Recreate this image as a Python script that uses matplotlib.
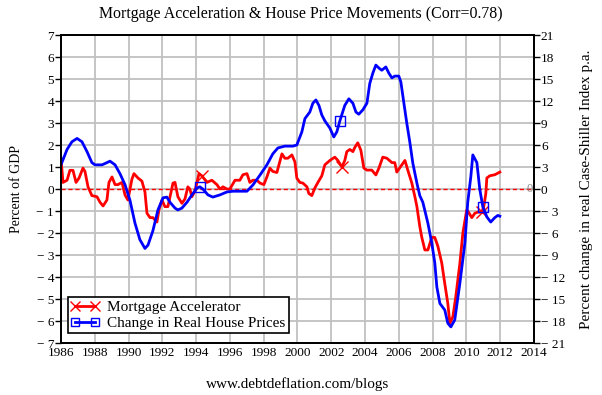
import numpy as np
import matplotlib
matplotlib.use('Agg')
import matplotlib.pyplot as plt

plt.rcParams['font.family'] = ['Liberation Serif', 'DejaVu Serif']

# Mortgage accelerator (percent of GDP, left axis)
mort_years = [1986.00, 1986.12, 1986.36, 1986.53, 1986.71, 1986.89, 1987.07, 1987.30, 1987.42, 1987.60,
              1987.83, 1988.13, 1988.31, 1988.49, 1988.72, 1988.84, 1989.02, 1989.20, 1989.37, 1989.61,
              1989.79, 1989.96, 1990.20, 1990.32, 1990.56, 1990.79, 1990.97, 1991.09, 1991.27, 1991.44,
              1991.68, 1991.80, 1991.98, 1992.15, 1992.33, 1992.63, 1992.75, 1992.92, 1993.16, 1993.34,
              1993.51, 1993.63, 1993.75, 1993.93, 1994.05, 1994.17, 1994.34, 1994.64, 1994.93, 1995.23,
              1995.41, 1995.59, 1995.82, 1996.00, 1996.30, 1996.59, 1996.77, 1997.01, 1997.18, 1997.36,
              1997.60, 1997.78, 1998.01, 1998.19, 1998.37, 1998.54, 1998.78, 1999.08, 1999.25, 1999.43,
              1999.67, 1999.85, 1999.96, 2000.14, 2000.32, 2000.56, 2000.67, 2000.85, 2001.03, 2001.21,
              2001.44, 2001.62, 2001.92, 2002.21, 2002.39, 2002.63, 2002.80, 2002.92, 2003.10, 2003.28,
              2003.40, 2003.57, 2003.75, 2003.93, 2004.11, 2004.40, 2004.64, 2004.82, 2005.05, 2005.29,
              2005.59, 2005.76, 2005.88, 2006.18, 2006.36, 2006.53, 2006.77, 2006.95, 2007.07, 2007.24,
              2007.36, 2007.54, 2007.72, 2007.95, 2008.13, 2008.31, 2008.54, 2008.72, 2008.90, 2009.02,
              2009.20, 2009.37, 2009.61, 2009.79, 2010.02, 2010.08, 2010.32, 2010.50, 2010.67, 2010.91,
              2011.03, 2011.15, 2011.21, 2011.38, 2011.68, 2011.98]
mort_vals = [1.4, 0.3, 0.4, 0.85, 0.85, 0.3, 0.5, 0.95, 0.8, 0.1,
             -0.3, -0.35, -0.6, -0.77, -0.5, 0.3, 0.55, 0.2, 0.2, 0.3,
             -0.27, -0.5, 0.45, 0.7, 0.5, 0.36, -0.13, -1.1, -1.3, -1.3,
             -1.5, -0.95, -0.5, -0.8, -0.8, 0.27, 0.3, -0.35, -0.65, -0.45,
             0.1, 0.0, -0.35, -0.1, 0.3, 0.7, 0.6, 0.3, 0.4, 0.2,
             0.0, 0.1, 0.0, 0.0, 0.4, 0.4, 0.65, 0.7, 0.3, 0.4,
             0.4, 0.27, 0.2, 0.55, 0.95, 0.8, 0.75, 1.6, 1.4, 1.4,
             1.55, 1.23, 0.5, 0.3, 0.27, 0.1, -0.2, -0.3, 0.05, 0.3,
             0.6, 1.1, 1.3, 1.45, 1.3, 1.0, 1.3, 1.7, 1.8, 1.7,
             1.9, 2.1, 1.77, 0.95, 0.86, 0.86, 0.64, 0.95, 1.45, 1.4,
             1.2, 1.2, 0.77, 1.1, 1.3, 0.86, 0.27, -0.35, -0.8, -1.7,
             -2.2, -2.77, -2.77, -2.2, -2.2, -2.6, -3.36, -4.3, -5.2, -6.1,
             -5.8, -4.9, -3.4, -2.0, -0.95, -1.0, -1.3, -1.1, -1.05, -1.05,
             -0.8, -0.2, 0.5, 0.6, 0.65, 0.77]

# Change in real house prices (percent p.a., right axis)
house_years = [1986.00, 1986.36, 1986.65, 1986.95, 1987.24, 1987.54, 1987.83, 1988.01, 1988.43, 1988.72,
               1988.90, 1989.20, 1989.49, 1989.79, 1990.08, 1990.38, 1990.67, 1990.97, 1991.15, 1991.44,
               1991.74, 1992.04, 1992.27, 1992.45, 1992.75, 1992.92, 1993.16, 1993.46, 1993.75, 1994.05,
               1994.22, 1994.40, 1994.70, 1994.99, 1995.41, 1995.82, 1996.18, 1996.71, 1997.01, 1997.36,
               1997.78, 1998.19, 1998.54, 1998.84, 1999.25, 1999.73, 1999.96, 2000.26, 2000.44, 2000.73,
               2000.91, 2001.09, 2001.27, 2001.44, 2001.62, 2001.92, 2002.15, 2002.33, 2002.51, 2002.80,
               2003.04, 2003.28, 2003.46, 2003.63, 2003.87, 2004.11, 2004.28, 2004.46, 2004.64, 2004.82,
               2004.99, 2005.23, 2005.41, 2005.59, 2005.76, 2006.00, 2006.12, 2006.30, 2006.47, 2006.65,
               2006.83, 2007.07, 2007.24, 2007.42, 2007.72, 2007.95, 2008.13, 2008.25, 2008.43, 2008.72,
               2008.90, 2009.08, 2009.31, 2009.61, 2009.91, 2010.08, 2010.26, 2010.38, 2010.62, 2010.79,
               2010.97, 2011.21, 2011.44, 2011.68, 2011.86, 2011.98]
house_vals = [3.3, 5.4, 6.45, 6.9, 6.45, 5.1, 3.6, 3.3, 3.3, 3.6,
              3.8, 3.3, 2.1, 0.6, -1.5, -4.65, -6.9, -8.1, -7.65, -5.7,
              -2.85, -1.2, -1.1, -1.8, -2.6, -2.85, -2.6, -1.8, -0.8, 0.15,
              0.3, 0.0, -0.8, -1.1, -0.8, -0.4, -0.3, -0.3, -0.3, 0.55,
              1.9, 3.3, 4.8, 5.6, 5.85, 5.85, 6.0, 7.8, 9.6, 10.5,
              11.7, 12.15, 11.4, 10.1, 9.3, 8.3, 7.1, 7.8, 9.3, 11.4,
              12.3, 11.7, 10.5, 10.2, 10.8, 11.7, 14.4, 15.8, 16.9, 16.5,
              16.2, 16.65, 15.8, 15.15, 15.4, 15.4, 14.6, 11.7, 9.0, 6.4,
              3.5, 0.8, -0.9, -1.8, -4.65, -7.35, -10.1, -13.35, -15.6, -16.5,
              -18.3, -18.8, -17.85, -12.9, -7.35, -1.8, 1.65, 4.65, 3.6, 0.0,
              -2.4, -3.8, -4.5, -3.9, -3.6, -3.7]

marker_years = [1994.3, 2002.6, 2010.9]

x_ticks = list(range(1986, 2015, 2))
left_ticks = list(range(-7, 8))
right_ticks = list(range(-21, 22, 3))


def fmt(v):
    return '\u2212 ' + str(abs(v)) if v < 0 else str(v)


def mark_idx(years):
    years = np.array(years)
    return [int(np.argmin(np.abs(years - m))) for m in marker_years]


fig = plt.figure(figsize=(6.02, 3.95), dpi=100)
ax = fig.add_axes([0.1013, 0.1316, 0.7857, 0.7797])
ax2 = ax.twinx()

ax.set_xlim(1986, 2014)
ax.set_ylim(-7, 7)
ax2.set_ylim(-21, 21)

ax.set_xticks(x_ticks)
ax.set_xticklabels([str(t) for t in x_ticks], fontsize=9.5)
ax.set_yticks(left_ticks)
ax.set_yticklabels([fmt(t) for t in left_ticks], fontsize=9.5)
ax2.set_yticks(right_ticks)
ax2.set_yticklabels([fmt(t) for t in right_ticks], fontsize=9.5)

ax.grid(True, color='#c0c0c0', linewidth=1.3)
ax.set_axisbelow(True)
ax.tick_params(axis='x', length=0, pad=3)
ax.tick_params(axis='y', length=4, width=1, pad=1)
ax2.tick_params(axis='y', length=4, width=1, pad=1)
for a in (ax, ax2):
    for s in a.spines.values():
        s.set_linewidth(1.3)

ax.axhline(0, color='red', linestyle=(0, (3, 2)), linewidth=1)
ax.text(2013.75, 0, '0', color='#888888', fontsize=9, ha='center', va='center')

ax.plot(mort_years, mort_vals, color='red', linewidth=2, marker='x', markersize=8,
        markeredgewidth=1, markevery=mark_idx(mort_years), label='Mortgage Accelerator')
ax2.plot(house_years, house_vals, color='blue', linewidth=2, marker='s', markersize=7,
         markerfacecolor='none', markeredgewidth=1, markevery=mark_idx(house_years),
         label='Change in Real House Prices')

# legend lives on the front axis so it sits above both lines
h1, l1 = ax.get_legend_handles_labels()
h2, l2 = ax2.get_legend_handles_labels()
leg = ax2.legend(h1 + h2, l1 + l2, loc='lower left', bbox_to_anchor=(0.014, 0.032),
                 fontsize=11, frameon=True, fancybox=False, framealpha=1, numpoints=2,
                 edgecolor='black', handlelength=1.9, borderpad=0.2, labelspacing=0.15,
                 handletextpad=0.5, borderaxespad=0, markerscale=0.9)
leg.get_frame().set_linewidth(1.2)

ax.set_ylabel('Percent of GDP', fontsize=10, va='center')
ax.yaxis.set_label_coords(-0.095, 0.5)
ax2.set_ylabel('Percent change in real Case-Shiller Index p.a.', fontsize=11, va='center')
ax2.yaxis.set_label_coords(1.112, 0.5)
fig.suptitle('Mortgage Acceleration & House Price Movements (Corr=0.78)', fontsize=11.4, y=0.985)
fig.text(0.494, 0.018, 'www.debtdeflation.com/blogs', fontsize=11, ha='center')

fig.savefig('out.png', dpi=100)
